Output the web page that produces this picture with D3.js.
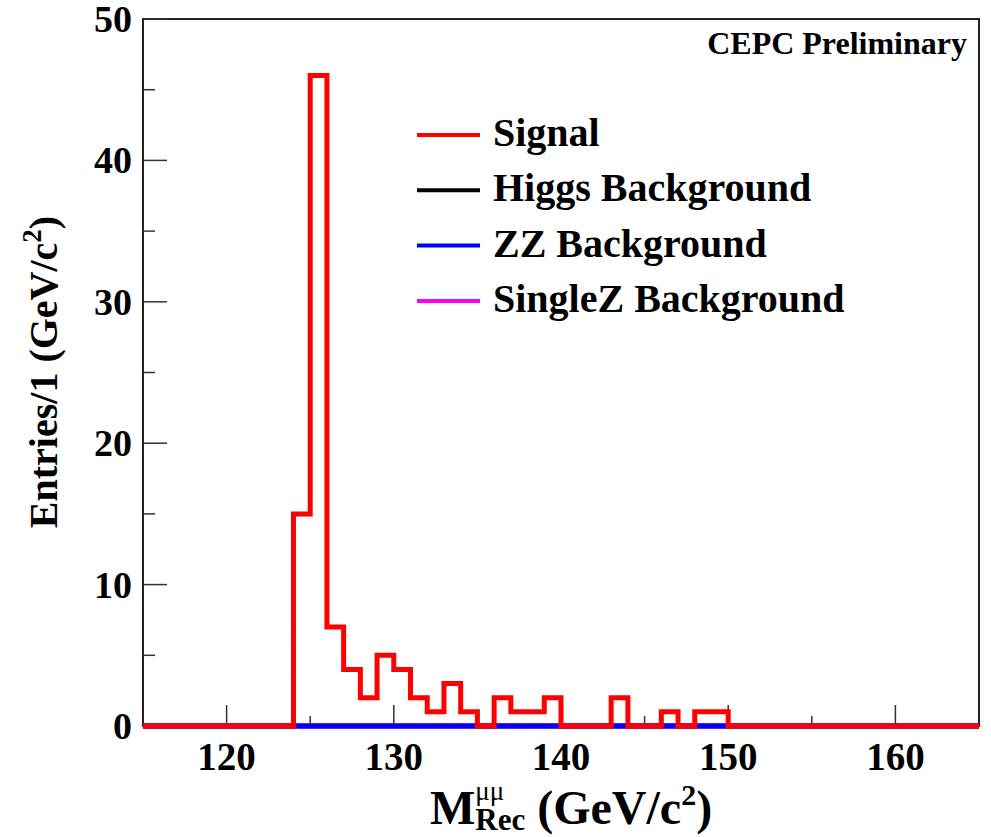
<!DOCTYPE html>
<html>
<head>
<meta charset="utf-8">
<script src="https://cdn.jsdelivr.net/npm/d3@7"></script>
<style>
  body { margin: 0; background: #fff; }
  text { font-family: "Liberation Serif", "Times New Roman", serif; font-weight: bold; fill: #000; }
</style>
</head>
<body>
<div id="chart"></div>
<script>
// bin low edges, 1 GeV wide, 115..164
var binEdges = d3.range(115, 166, 1);

var signal = [0,0,0,0,0, 0,0,0,0,15, 46,7,4,2,5, 4,2,1,3,1,
              0,2,1,1,2, 0,0,0,2,0, 0,1,0,1,1, 0,0,0,0,0,
              0,0,0,0,0, 0,0,0,0,0];
var higgsBkg = [0,0,0,0,0, 0,0,0,0,0, 0,0,0,0,0, 0,0,0,0,0,
                0,0,0,0,0, 0,0,0,0,0, 0,0,0,0,0, 0,0,0,0,0,
                0,0,0,0,0, 0,0,0,0,0];
var zzBkg = [0,0,0,0,0, 0,0,0,0,0, 0,0,0,0,0, 0,0,0,0,0,
             0,0,0,0,0, 0,0,0,0,0, 0,0,0,0,0, 0,0,0,0,0,
             0,0,0,0,0, 0,0,0,0,0];
var singleZBkg = [0,0,0,0,0, 0,0,0,0,0, 0,0,0,0,0, 0,0,0,0,0,
                  0,0,0,0,0, 0,0,0,0,0, 0,0,0,0,0, 0,0,0,0,0,
                  0,0,0,0,0, 0,0,0,0,0];

var xTicks = [120, 130, 140, 150, 160];
var yTicks = [0, 10, 20, 30, 40, 50];
var legendNames = ["Signal", "Higgs Background", "ZZ Background", "SingleZ Background"];
var legendColors = ["#ff0000", "#000000", "#0000ff", "#ff00ff"];

function init(){
  var w = 991, h = 837;
  var left = 143, right = 979, top = 19, bottom = 726;

  var svg = d3.select("#chart").append("svg")
    .attr("width", w).attr("height", h);

  var xScale = d3.scaleLinear().domain([115, 165]).range([left, right]);
  var yScale = d3.scaleLinear().domain([0, 50]).range([bottom, top]);

  // frame
  svg.append("rect")
    .attr("x", left).attr("y", top)
    .attr("width", right - left).attr("height", bottom - top)
    .attr("fill", "none").attr("stroke", "#222").attr("stroke-width", 2);

  // ticks, inside the frame like ROOT
  var yMinor = d3.range(5, 50, 10);
  var xMinor = d3.range(125, 165, 10);
  svg.selectAll(".ytick").data(yTicks).enter().append("line")
    .attr("x1", left).attr("x2", left + 24)
    .attr("y1", function(d){ return yScale(d); }).attr("y2", function(d){ return yScale(d); })
    .attr("stroke", "#333").attr("stroke-width", 1.5);
  svg.selectAll(".yminor").data(yMinor).enter().append("line")
    .attr("x1", left).attr("x2", left + 12)
    .attr("y1", function(d){ return yScale(d); }).attr("y2", function(d){ return yScale(d); })
    .attr("stroke", "#333").attr("stroke-width", 1.5);
  svg.selectAll(".xtick").data(xTicks).enter().append("line")
    .attr("x1", function(d){ return xScale(d); }).attr("x2", function(d){ return xScale(d); })
    .attr("y1", bottom).attr("y2", bottom - 21)
    .attr("stroke", "#333").attr("stroke-width", 1.5);
  svg.selectAll(".xminor").data(xMinor).enter().append("line")
    .attr("x1", function(d){ return xScale(d); }).attr("x2", function(d){ return xScale(d); })
    .attr("y1", bottom).attr("y2", bottom - 10)
    .attr("stroke", "#333").attr("stroke-width", 1.5);

  // tick labels
  svg.selectAll(".ylab").data(yTicks).enter().append("text")
    .attr("x", 132).attr("y", function(d){ return yScale(d); })
    .attr("dy", "0.34em").attr("text-anchor", "end")
    .style("font-size", "38px").text(function(d){ return d; });
  svg.selectAll(".xlab").data(xTicks).enter().append("text")
    .attr("x", function(d){ return xScale(d); }).attr("y", 770)
    .attr("text-anchor", "middle")
    .style("font-size", "39px").text(function(d){ return d; });

  // histograms as step outlines
  function stepPath(values){
    var pts = values.map(function(v, i){ return [binEdges[i], v]; });
    pts.push([binEdges[values.length], values[values.length - 1]]);
    return d3.line()
      .x(function(d){ return xScale(d[0]); })
      .y(function(d){ return yScale(d[1]); })
      .curve(d3.curveStepAfter)(pts);
  }
  var hists = [
    {vals: higgsBkg, color: legendColors[1]},
    {vals: singleZBkg, color: legendColors[3]},
    {vals: zzBkg, color: legendColors[2]},
    {vals: signal, color: legendColors[0]}
  ];
  hists.forEach(function(hh){
    svg.append("path")
      .attr("d", stepPath(hh.vals))
      .attr("fill", "none").attr("stroke", hh.color)
      .attr("stroke-width", 5).attr("stroke-linejoin", "miter");
  });

  // legend
  legendNames.forEach(function(name, i){
    var ly = 135 + i * 55.3;
    svg.append("line").attr("x1", 417).attr("x2", 480).attr("y1", ly).attr("y2", ly)
      .attr("stroke", legendColors[i]).attr("stroke-width", 4);
    svg.append("text").attr("x", 493).attr("y", ly + 11)
      .style("font-size", "40px").text(name);
  });

  // label
  svg.append("text").attr("x", 967).attr("y", 54).attr("text-anchor", "end")
    .style("font-size", "32px").text("CEPC Preliminary");

  // y title
  var yt = svg.append("text")
    .attr("transform", "translate(57," + 372 + ") rotate(-90)")
    .attr("text-anchor", "middle").style("font-size", "40px");
  yt.append("tspan").text("Entries/1 (GeV/c");
  yt.append("tspan").attr("dy", -16).style("font-size", "27px").text("2");
  yt.append("tspan").attr("dy", 16).text(")");

  // x title
  var xt = svg.append("text").attr("x", 430).attr("y", 824).style("font-size", "48px");
  xt.append("tspan").text("M");
  var mW = xt.node().getComputedTextLength();
  xt.append("tspan").attr("dy", -24).style("font-size", "27px").style("font-weight", "normal").text("μμ");
  xt.append("tspan").attr("x", 430 + mW).attr("dy", 30).style("font-size", "31px").text("Rec");
  xt.append("tspan").attr("dy", -6).text(" (GeV/c");
  xt.append("tspan").attr("dy", -19).style("font-size", "30px").text("2");
  xt.append("tspan").attr("dy", 19).text(")");
}

window.onload = init;
</script>
</body>
</html>
